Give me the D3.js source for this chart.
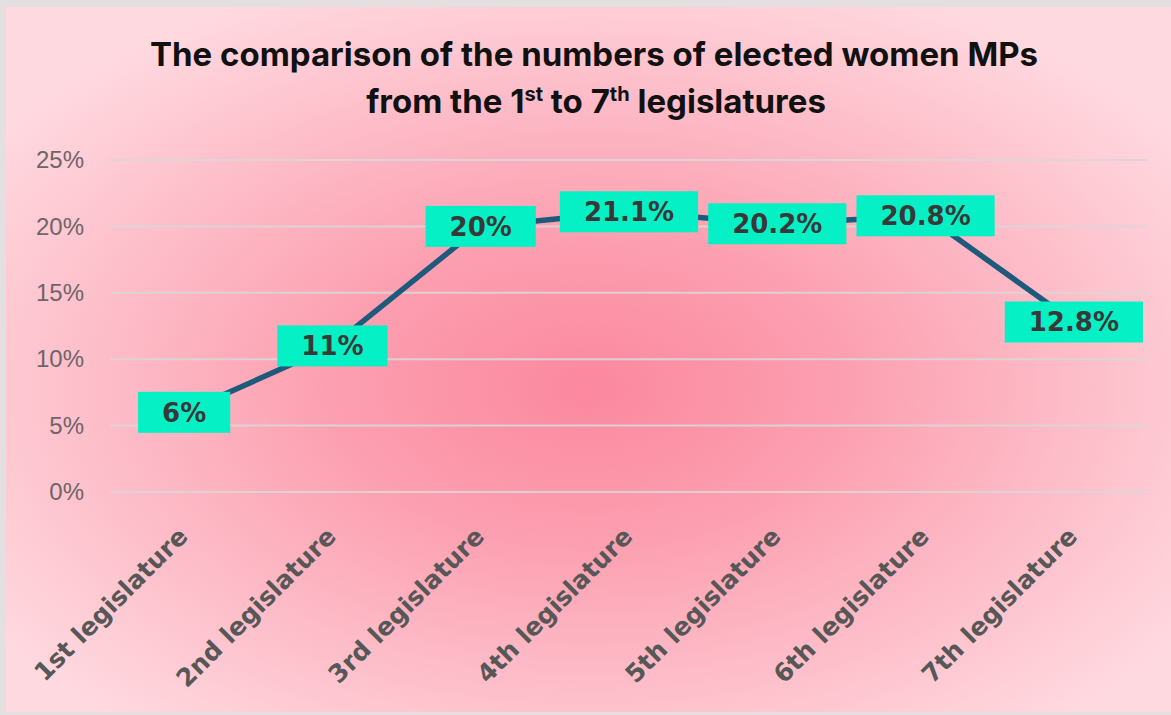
<!DOCTYPE html>
<html>
<head>
<meta charset="utf-8">
<script src="https://cdn.jsdelivr.net/npm/d3@7"></script>
<style>
  html, body { margin: 0; padding: 0; background: #e4e0e1; }
  svg { display: block; }
</style>
</head>
<body>
<svg id="chart" width="1171" height="715"></svg>
<script>
// Share of women among elected MPs, by legislature
const categories = ["1st legislature", "2nd legislature", "3rd legislature", "4th legislature",
                    "5th legislature", "6th legislature", "7th legislature"];
const shares = [0.06, 0.11, 0.20, 0.211, 0.202, 0.208, 0.128];
const shareLabels = ["6%", "11%", "20%", "21.1%", "20.2%", "20.8%", "12.8%"];
const yTicks = [0, 0.05, 0.10, 0.15, 0.20, 0.25];

const W = 1171, H = 715;
const svg = d3.select("#chart");

// pink radial background
const defs = svg.append("defs");
const grad = defs.append("radialGradient")
  .attr("id", "bg").attr("cx", 0.5).attr("cy", 0.54).attr("r", 0.62);
[[0, "#fb889e"], [0.35, "#fc9fb0"], [0.7, "#fdbfca"], [1, "#ffd9e0"]].forEach(([o, c]) =>
  grad.append("stop").attr("offset", o).attr("stop-color", c));

svg.append("rect").attr("x", 6).attr("y", 7).attr("width", W - 6).attr("height", H - 10)
  .attr("fill", "url(#bg)");

// scales
const x = d3.scaleBand().domain(categories).range([110, 1148]);
const cx = d => x(d) + x.bandwidth() / 2;
const y = d3.scaleLinear().domain([0, 0.25]).range([492, 160]);

// gridlines
svg.append("g").selectAll("line").data(yTicks).join("line")
  .attr("x1", 110).attr("x2", 1148)
  .attr("y1", d => y(d)).attr("y2", d => y(d))
  .attr("stroke", "#dcd6d8").attr("stroke-width", 2).attr("opacity", 0.9);

// y axis labels
const yAxis = d3.axisLeft(y).tickValues(yTicks).tickFormat(d3.format(".0%")).tickSize(0).tickPadding(0);
const yg = svg.append("g").attr("transform", "translate(84,0)").call(yAxis);
yg.select(".domain").remove();
yg.selectAll("text")
  .attr("font-family", "'Liberation Sans', Arial, sans-serif")
  .attr("font-size", 24).attr("fill", "#6f6468");

// x axis category labels, rotated
const xg = svg.append("g");
xg.selectAll("text").data(categories).join("text")
  .attr("transform", d => `translate(${cx(d) + 5},538) rotate(-45)`)
  .attr("text-anchor", "end")
  .attr("font-family", "'DejaVu Sans', Verdana, sans-serif")
  .attr("font-weight", "bold").attr("font-size", 25)
  .attr("fill", "#575757")
  .text(d => d);

// series line
const pts = categories.map((c, i) => ({ c, v: shares[i], label: shareLabels[i] }));
const line = d3.line().x(d => cx(d.c)).y(d => y(d.v));
svg.append("path").datum(pts)
  .attr("d", line)
  .attr("fill", "none").attr("stroke", "#1f5a7c")
  .attr("stroke-width", 5.5).attr("stroke-linejoin", "round");

// value labels in boxes
const lg = svg.append("g").selectAll("g").data(pts).join("g")
  .attr("transform", d => `translate(${cx(d.c)},${y(d.v)})`);
const rects = lg.append("rect").attr("fill", "#05f1c5");
const texts = lg.append("text")
  .attr("text-anchor", "middle").attr("dy", "0.36em")
  .attr("font-family", "'DejaVu Sans', Verdana, sans-serif")
  .attr("font-weight", "bold").attr("font-size", 26)
  .attr("fill", "#383838")
  .text(d => d.label);
texts.each(function () {
  const w = this.getComputedTextLength() + 48;
  d3.select(this.parentNode).select("rect")
    .attr("x", -w / 2).attr("y", -20.5).attr("width", w).attr("height", 41);
});

// title
const title = svg.append("g")
  .attr("font-family", "Inter, 'Open Sans', sans-serif")
  .attr("font-weight", 700).attr("fill", "#111")
  .attr("text-anchor", "middle");
title.append("text").attr("x", 594).attr("y", 66).attr("font-size", 33)
  .text("The comparison of the numbers of elected women MPs");
const t2 = title.append("text").attr("x", 596).attr("y", 113).attr("font-size", 33);
t2.append("tspan").text("from the 1");
t2.append("tspan").attr("font-size", 20).attr("dy", -12).text("st");
t2.append("tspan").attr("dy", 12).text(" to 7");
t2.append("tspan").attr("font-size", 20).attr("dy", -12).text("th");
t2.append("tspan").attr("dy", 12).text(" legislatures");
</script>
</body>
</html>
